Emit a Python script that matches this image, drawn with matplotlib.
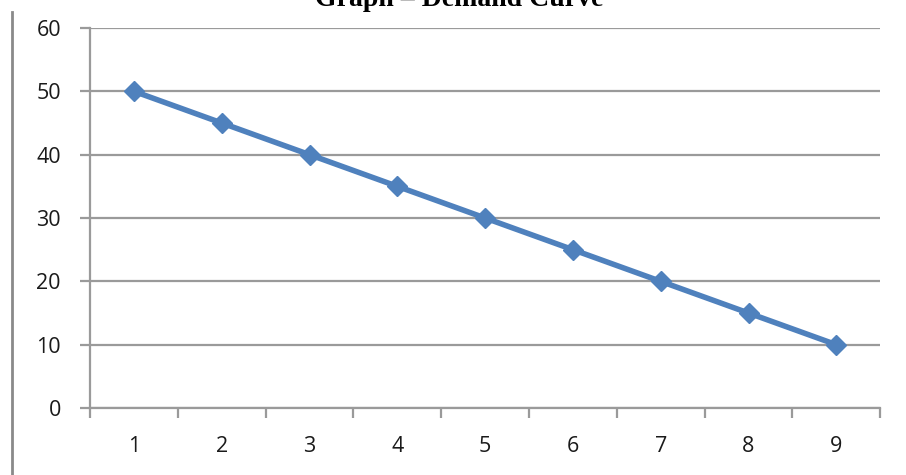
import numpy as np
import matplotlib.pyplot as plt
from matplotlib.lines import Line2D

# data
categories = [1, 2, 3, 4, 5, 6, 7, 8, 9]
demand = [50, 45, 40, 35, 30, 25, 20, 15, 10]
y_ticks = [0, 10, 20, 30, 40, 50, 60]

fig = plt.figure(figsize=(9.06, 4.75), dpi=100)
ax = fig.add_axes([0.0995, 0.141, 0.872, 0.8])

grid_col = "#9a9a9a"
ax.set_axisbelow(True)
ax.yaxis.grid(True, color=grid_col, linewidth=1.6)
ax.plot(categories, demand, color="#4f81bd", linewidth=4,
        marker="D", markersize=10, zorder=3)

ax.set_xlim(0.5, 9.5)
ax.set_ylim(0, 60)
ax.set_yticks(y_ticks)
ax.set_xticks(categories)
ax.set_xticks(np.arange(0.5, 10, 1), minor=True)
ax.tick_params(axis="x", which="major", length=0, pad=20)
ax.tick_params(axis="x", which="minor", length=7, width=1.6, color=grid_col)
ax.tick_params(axis="y", length=7, width=1.6, color=grid_col, pad=14)
for lab in ax.get_xticklabels() + ax.get_yticklabels():
    lab.set_fontfamily("Open Sans")
    lab.set_fontsize(15.5)
    lab.set_color("#1a1a1a")

for s in ["top", "right"]:
    ax.spines[s].set_visible(False)
for s in ["left", "bottom"]:
    ax.spines[s].set_color(grid_col)
    ax.spines[s].set_linewidth(1.6)

# outer frame line at the left edge
fig.add_artist(Line2D([0.0135, 0.0135], [0.0, 0.975], color="#8a8a8a",
                      linewidth=2, transform=fig.transFigure))

# title, clipped at the top as in the reference
fig.text(0.507, 0.987, "Graph \u2013 Demand Curve", ha="center",
         va="baseline", fontsize=20, fontweight="bold",
         family="Liberation Serif")

fig.savefig("out.png", dpi=100)
